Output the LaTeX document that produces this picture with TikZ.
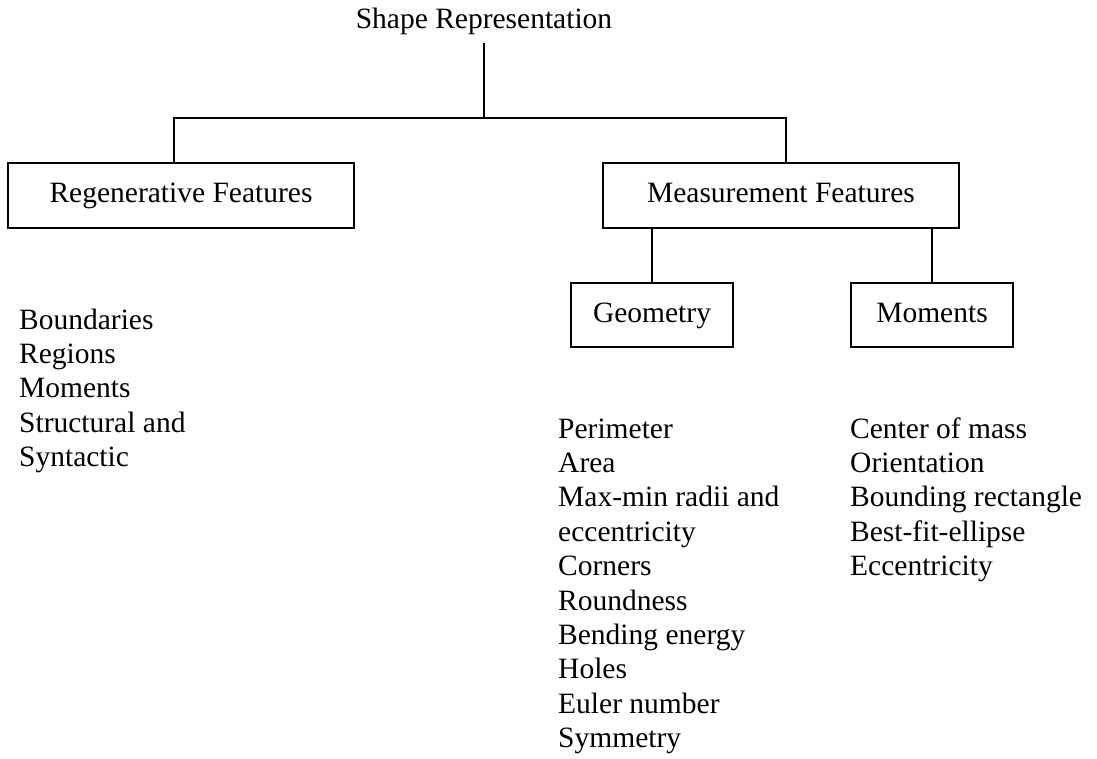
\documentclass[tikz,border=0pt]{standalone}
\usepackage{fontspec}
\setmainfont{Liberation Serif}
\begin{document}
\begin{tikzpicture}[x=1pt,y=-1pt,
  every node/.style={font=\fontsize{29.5}{34.4}\selectfont, inner sep=0pt},
  fbox/.style={draw, line width=1.1pt, minimum height=64pt, text height=20pt, text depth=6pt},
  link/.style={line width=1.6pt},
  itemlist/.style={anchor=base west, align=left}]
\useasboundingbox (0,0) rectangle (1097,759);

% root label
\node[anchor=base] (root) at (484,29) {Shape Representation};

% first level boxes
\node[fbox, minimum width=346pt, minimum height=65pt] (regen) at (181,195.5) {Regenerative Features};
\node[fbox, minimum width=356pt, minimum height=65pt] (meas) at (781,195.5) {Measurement Features};

% second level boxes
\node[fbox, minimum width=162pt] (geom) at (652,315) {Geometry};
\node[fbox, minimum width=162pt] (mom) at (932,315) {Moments};

% tree connectors
\coordinate (rootfoot) at (484,43);
\coordinate (split) at (484,118);
\draw[link] (rootfoot) -- (split);
\draw[link] (regen.north -| 174,0) |- (split) -| (meas.north -| 786,0);
\draw[link] (meas.south -| geom.north) -- (geom.north);
\draw[link] (meas.south -| mom.north) -- (mom.north);

% feature lists (base anchor sits on the last line)
\node[itemlist] (regenlist) at (19,466.6) {Boundaries\\Regions\\Moments\\Structural and\\Syntactic};
\node[itemlist] (geomlist) at (558,747.6) {Perimeter\\Area\\Max-min radii and\\eccentricity\\Corners\\Roundness\\Bending energy\\Holes\\Euler number\\Symmetry};
\node[itemlist] (momlist) at (850,575.6) {Center of mass\\Orientation\\Bounding rectangle\\Best-fit-ellipse\\Eccentricity};
\end{tikzpicture}
\end{document}
